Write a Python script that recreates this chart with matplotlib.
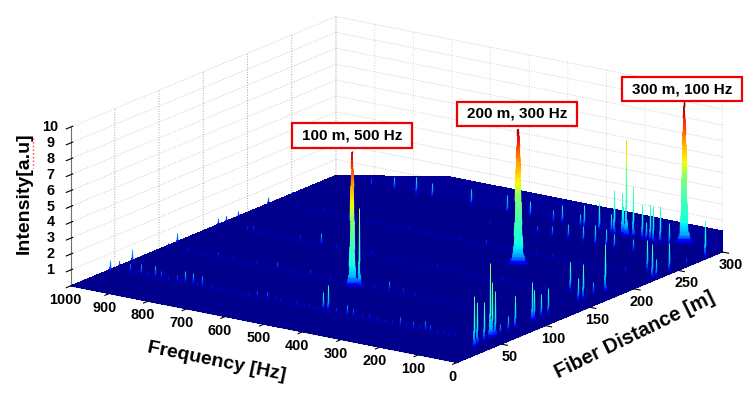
import numpy as np
import matplotlib
matplotlib.use('Agg')
import matplotlib.pyplot as plt
from matplotlib.patches import Rectangle
from matplotlib.lines import Line2D
from mpl_toolkits.mplot3d import proj3d
from mpl_toolkits.mplot3d.art3d import Line3DCollection

plt.rcParams['font.family'] = ['Liberation Sans', 'DejaVu Sans']
plt.rcParams['grid.color'] = '#c4c4c4'
plt.rcParams['grid.linestyle'] = ':'
plt.rcParams['grid.linewidth'] = 0.7

W, H = 756, 400

# the three big tones
main_d = [100, 200, 300]
main_f = [500, 300, 100]
main_h = [8.6, 8.6, 9.1]
main_labels = ['100 m, 500 Hz', '200 m, 300 Hz', '300 m, 100 Hz']

# spikes near the front edge (distance, frequency, height)
front_d = [32, 40, 48, 55, 58, 60, 66, 74, 83, 102, 104, 112, 120, 171, 156, 160, 174, 184, 236, 225, 228, 244, 263, 283]
front_f = [30, 40, 40, 40, 42, 40, 40, 38, 40, 40, 38, 40, 40, 100, 44, 40, 47, 37, 49, 11, 6, 9, 10, 5]
front_h = [3.3, 2.7, 2.5, 4.8, 3.5, 2.9, 0.7, 1.0, 2.1, 2.5, 2.0, 1.5, 1.7, 1.9, 1.5, 2.3, 0.8, 3.0, 2.0, 2.2, 1.2, 1.8, 0.4, 2.3]

# spikes standing on the far edge
back_f = [940, 890, 831, 774, 733, 632, 539, 508, 480, 397, 340, 300, 262, 242, 230, 214, 190, 170, 160, 143, 120, 240, 180, 270, 350, 420]
back_h = [0.7, 0.5, 0.9, 1.2, 1.0, 1.1, 1.15, 1.0, 1.1, 1.2, 1.5, 1.8, 2.8, 2.7, 6.1, 3.3, 2.3, 2.4, 2.3, 2.4, 1.4, 1.9, 1.2, 1.3, 0.9, 0.8]
back_d = 292

# spikes along the left edge
edge_d = [39, 49, 64, 105, 115, 161, 171, 184, 218, 245]
edge_h = [0.8, 0.5, 0.9, 0.3, 0.7, 0.6, 0.5, 0.5, 0.6, 0.3]
edge_f = 988

# low rows of noise running along the frequency axis
row45_f = [948, 935, 922, 905, 884, 870, 850, 827, 815, 806, 786, 775, 762, 740, 720, 700, 680, 660, 640, 620, 594, 575, 560, 540, 520, 500, 485, 465, 450, 437, 415, 388, 372, 350, 330, 310, 290, 270, 250, 235, 217, 200, 186, 173, 155, 140, 125, 110]
row45_h = [0.6, 0.3, 0.7, 0.3, 0.8, 0.5, 0.3, 0.5, 0.3, 0.8, 0.8, 0.3, 0.7, 0.3, 0.25, 0.3, 0.25, 0.3, 0.3, 0.5, 0.5, 0.3, 0.3, 0.25, 0.3, 0.25, 0.3, 0.3, 1.2, 1.7, 0.4, 0.7, 0.5, 0.3, 0.4, 0.3, 0.3, 0.3, 0.6, 0.3, 0.5, 0.3, 0.7, 0.5, 0.3, 0.3, 0.25, 0.3]
row105_f = [938, 900, 860, 820, 760, 705, 660, 620, 570, 530, 455, 415, 380, 350, 280, 240, 190, 150, 120]
row105_h = [0.3, 0.25, 0.4, 0.3, 0.3, 0.5, 0.3, 0.4, 0.3, 0.25, 0.3, 0.7, 0.4, 0.3, 0.3, 0.25, 0.3, 0.3, 0.25]
row165_f = [920, 905, 880, 783, 730, 690, 650, 600, 540, 430, 380, 260, 210, 150]
row165_h = [0.35, 0.4, 0.25, 0.4, 0.8, 0.3, 0.3, 0.3, 0.25, 0.3, 0.25, 0.3, 0.25, 0.3]
row225_f = [930, 860, 800, 720, 640, 590, 510, 440, 370, 310, 270, 200, 130, 80]
row225_h = [0.25, 0.3, 0.3, 0.25, 0.3, 0.25, 0.3, 0.4, 0.3, 0.25, 0.3, 0.3, 0.4, 0.4]
row265_f = [520, 460, 400, 360, 320, 280, 250, 220, 200, 150]
row265_h = [0.3, 0.3, 0.5, 0.7, 1.0, 1.1, 1.3, 1.2, 1.0, 0.9]

# raised band along the far edge
band_f = [1000, 705, 0]
band_h = [0.0, 1.33, 1.33]

x_ticks = [50, 100, 150, 200, 250, 300]
y_ticks = [0, 100, 200, 300, 400, 500, 600, 700, 800, 900, 1000]
z_ticks = [1, 2, 3, 4, 5, 6, 7, 8, 9, 10]

# colour position against height, as read along the big peaks
color_z = [0, 0.15, 0.3, 0.7, 1.4, 3, 4.4, 5, 6.6, 7.8, 8.8]
color_c = [0, 0.08, 0.17, 0.3, 0.375, 0.44, 0.52, 0.625, 0.75, 0.875, 1]
FLOOR = (0, 0, 0.55)


def px(x, y):
    return x / W, 1 - y / H


def spike(ax, d, f, h, big=0):
    n = 60 if big else max(6, int(h * 8))
    z = np.linspace(0, h, n + 1)
    mid = (z[:-1] + z[1:]) / 2
    step = h / n
    segs = [[(d, f, z[i]), (d, f, min(z[i + 1] + step * 0.6, h))] for i in range(n)]
    if big:
        w = big * np.interp(mid, [0, 0.3, 0.8, 3, 6, 8.9], [27, 15, 10, 7, 5.5, 1.5])
    else:
        w = np.interp(mid / h, [0, 0.2, 1], [2.5 + h * 0.6, 1.6, 0.9])
    c = np.interp(mid, color_z, color_c)
    col = Line3DCollection(segs, colors=plt.cm.jet(c), linewidths=w * 0.72, capstyle='butt')
    col.set_zorder(10 + 10 * (2 - d / 300 - f / 1000))
    ax.add_collection3d(col)


def tick_text(ax, pos, s, dx, dy):
    # label placed a few pixels away from where the tick lands on screen
    xs, ys, _ = proj3d.proj_transform(pos[0], pos[1], pos[2], ax.get_proj())
    ax.annotate(s, (xs, ys), xytext=(dx * 0.72, -dy * 0.72), textcoords='offset points',
                fontsize=10.4, fontweight='bold', ha='center', va='center', annotation_clip=False)


fig = plt.figure(figsize=(W / 100, H / 100), dpi=100)
ax = fig.add_axes([37 / W, -149 / H, 700 / W, 700 / H], projection='3d', computed_zorder=False)
ax.set_proj_type('ortho')
ax.view_init(elev=16.7, azim=-145.4)
ax.set_box_aspect((468, 470, 166), zoom=0.947)
ax.set_xlim(0, 300, view_margin=0)
ax.set_ylim(0, 1000, view_margin=0)
ax.set_zlim(0, 10, view_margin=0)

# floor
fx, fy = np.meshgrid([0, 300], [0, 1000])
ax.plot_surface(fx, fy, np.zeros_like(fx, dtype=float), color=FLOOR, shade=False, linewidth=0, antialiased=False, zorder=1)

# band on the far edge
bf = np.array([band_f, band_f], dtype=float)
bd = np.full_like(bf, 300.0)
bz = np.array([[0.0, 0.0, 0.0], band_h])
ax.plot_surface(bd, bf, bz, color=(0, 0, 0.6), shade=False, linewidth=0, antialiased=False, zorder=2)

# faint lines that the noise rows sit on
for d, fs in [(45, row45_f), (105, row105_f), (165, row165_f), (225, row225_f)]:
    ax.plot([d, d], [max(fs), min(fs)], [0.03, 0.03], color=(0, 0, 0.78), linewidth=1.5, alpha=0.35, zorder=3)

for f, h in zip(row45_f, row45_h):
    spike(ax, 45, f, h)
for f, h in zip(row105_f, row105_h):
    spike(ax, 105, f, h)
for f, h in zip(row165_f, row165_h):
    spike(ax, 165, f, h)
for f, h in zip(row225_f, row225_h):
    spike(ax, 225, f, h)
for f, h in zip(row265_f, row265_h):
    spike(ax, 265, f, h)
for d, h in zip(edge_d, edge_h):
    spike(ax, d, edge_f, h)
for f, h in zip(back_f, back_h):
    spike(ax, back_d, f, h)
for d, f, h in zip(front_d, front_f, front_h):
    spike(ax, d, f, h)
for d, f, h, b in zip(main_d, main_f, main_h, [0.7, 1.0, 0.85]):
    spike(ax, d, f, h, big=b)
# second thin line right next to the 500 Hz tone
spike(ax, 102, 488, 5.0)

ax.set_xticks(x_ticks)
ax.set_yticks(y_ticks)
ax.set_zticks(z_ticks)
ax.set_xticklabels([])
ax.set_yticklabels([])
ax.set_zticklabels([])

for t in x_ticks:
    tick_text(ax, (t, 0, 0), str(t), 8, 13)
for t in y_ticks:
    tick_text(ax, (0, t, 0), str(t), -5, 14)
for t in z_ticks:
    tick_text(ax, (0, 1000, t), str(t), -20, 0)

for axis in (ax.xaxis, ax.yaxis, ax.zaxis):
    axis.set_pane_color((1, 1, 1, 1))
    axis.pane.set_edgecolor((1, 1, 1, 0))
    axis.line.set_color('#707070')
    axis.line.set_linewidth(0.8)
ax.xaxis._axinfo['grid']['color'] = '#a8a8a8'
ax.yaxis._axinfo['grid']['color'] = '#d8d8d8'
ax.zaxis._axinfo['grid']['color'] = '#cccccc'

x, y = px(217, 362)
fig.text(x, y, 'Frequency [Hz]', fontsize=14, fontweight='bold', rotation=-11.5, ha='center', va='center', rotation_mode='anchor')
x, y = px(635, 335)
fig.text(x, y, 'Fiber Distance [m]', fontsize=14.5, fontweight='bold', rotation=26, ha='center', va='center', rotation_mode='anchor')
x, y = px(24, 193)
fig.text(x, y, 'Intensity[a.u]', fontsize=14, fontweight='bold', rotation=90, ha='center', va='center')

# spell checker squiggle under a.u
x0, y0 = px(33, 138)
x1, y1 = px(33, 168)
fig.add_artist(Line2D([x0, x1], [y0, y1], color='red', linestyle=':', linewidth=1.0, alpha=0.8))

boxes = [(292, 123, 412, 148), (457, 102, 577, 126), (622, 77, 742, 101)]
for (l, t, r, b), s in zip(boxes, main_labels):
    x, y = px(l, b)
    fig.add_artist(Rectangle((x, y), (r - l) / W, (b - t) / H, transform=fig.transFigure, facecolor='white', edgecolor='#f00000', linewidth=1.6))
    x, y = px((l + r) / 2, (t + b) / 2)
    fig.text(x, y, s, fontsize=11, fontweight='bold', ha='center', va='center', zorder=5)

fig.savefig('out.png', dpi=100, facecolor='white')
